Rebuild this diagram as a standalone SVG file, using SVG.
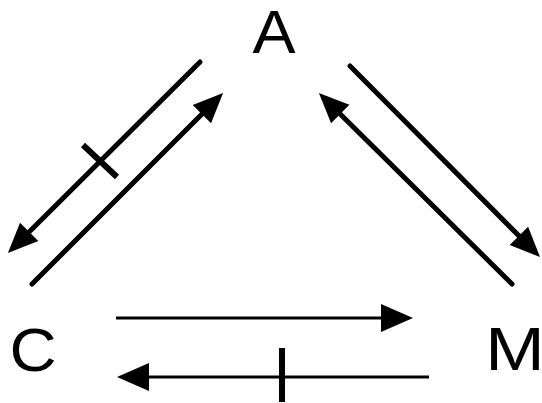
<svg xmlns="http://www.w3.org/2000/svg" width="542" height="403" viewBox="0 0 542 403">
  <style>
    .lbl { font-family: "Liberation Sans", Arial, sans-serif; font-size: 61px; fill: #000; text-anchor: middle; }
    .diag { stroke: #000; stroke-width: 5; fill: none; stroke-linecap: round; }
    .horiz { stroke: #000; stroke-width: 3; fill: none; }
    .tick { stroke: #000; fill: none; }
  </style>
  <defs>
    <marker id="ah" markerUnits="userSpaceOnUse" markerWidth="34" markerHeight="30" refX="22" refY="14" orient="auto" overflow="visible">
      <path d="M0,0 L32,14 L0,28 z" fill="#000"/>
    </marker>
    <marker id="ahd" markerUnits="userSpaceOnUse" markerWidth="34" markerHeight="30" refX="20" refY="13" orient="auto" overflow="visible">
      <path d="M0,0 L30,13 L0,26 z" fill="#000"/>
    </marker>
  </defs>

  <g id="node-A">
    <text class="lbl" transform="translate(274,53) scale(1.06,1)">A</text>
  </g>
  <g id="node-C">
    <text class="lbl" transform="translate(33,371) scale(1.07,1)">C</text>
  </g>
  <g id="node-M">
    <text class="lbl" transform="translate(515,370) scale(1.17,1)">M</text>
  </g>

  <g id="connectors">
    <!-- A -> C (blocked) -->
    <line class="diag" x1="200" y1="62" x2="15" y2="246" marker-end="url(#ahd)"/>
    <line class="tick" x1="83" y1="145" x2="117" y2="177" stroke-width="6"/>
    <!-- C -> A -->
    <line class="diag" x1="32" y1="284" x2="216" y2="100" marker-end="url(#ahd)"/>
    <!-- A -> M -->
    <line class="diag" x1="350" y1="66" x2="533" y2="250" marker-end="url(#ahd)" stroke="#111"/>
    <!-- M -> A -->
    <line class="diag" x1="512" y1="284" x2="326" y2="100" marker-end="url(#ahd)" stroke="#111"/>
    <!-- C -> M -->
    <line class="horiz" x1="116" y1="318" x2="403" y2="318" marker-end="url(#ah)"/>
    <!-- M -> C (blocked) -->
    <line class="horiz" x1="429" y1="377" x2="127" y2="377" marker-end="url(#ah)"/>
    <line class="tick" x1="282" y1="348" x2="282" y2="402" stroke-width="6"/>
  </g>
</svg>
